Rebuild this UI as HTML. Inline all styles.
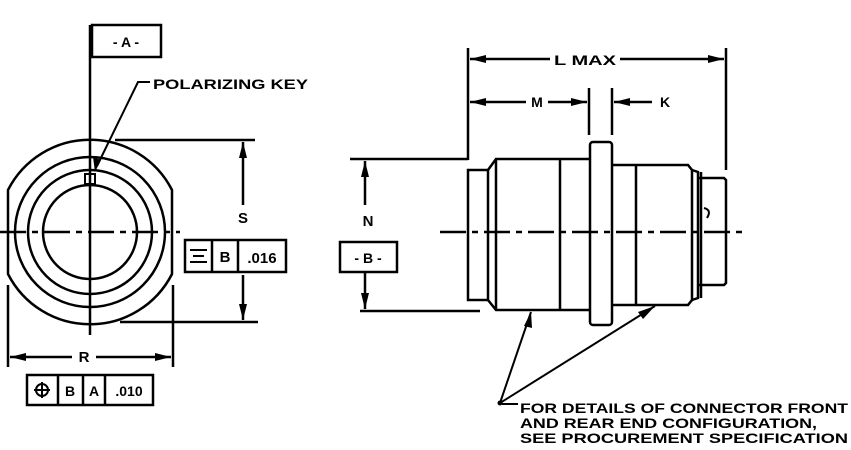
<!DOCTYPE html>
<html><head><meta charset="utf-8"><style>html,body{margin:0;padding:0;background:#fff}svg{display:block}</style></head><body>
<svg width="851" height="450" viewBox="0 0 851 450" xmlns="http://www.w3.org/2000/svg" font-family="Liberation Sans, sans-serif" font-weight="bold">
<g stroke="#000" stroke-width="2.5" fill="none">
<!-- left view -->
<line x1="90" y1="25" x2="90" y2="335"/>
<rect x="92" y="25" width="69" height="32"/>
<path d="M8,190 A92,92 0 0 1 172,190 L172,274 A92,92 0 0 1 8,274 Z"/>
<circle cx="90" cy="232" r="75"/>
<circle cx="90" cy="232" r="62"/>
<circle cx="90" cy="232" r="47"/>
<rect x="85" y="174" width="10" height="10" stroke-width="2"/>
<line x1="0" y1="232" x2="180" y2="232" stroke-dasharray="26,6,6,6"/>
<polyline points="150,82 138,82 97,166" stroke-width="2"/>
<line x1="115" y1="140" x2="255" y2="140"/>
<line x1="120" y1="322" x2="258" y2="322"/>
<line x1="243" y1="142" x2="243" y2="205"/>
<line x1="243" y1="275" x2="243" y2="320"/>
<rect x="185" y="240" width="101" height="32"/>
<line x1="212" y1="240" x2="212" y2="272"/><line x1="238" y1="240" x2="238" y2="272"/>
<line x1="8" y1="285" x2="8" y2="367"/><line x1="173" y1="285" x2="173" y2="367"/>
<line x1="10" y1="357" x2="72" y2="357"/>
<line x1="96" y1="357" x2="171" y2="357"/>
<rect x="27" y="375" width="126" height="30"/>
<line x1="58" y1="375" x2="58" y2="405"/><line x1="83" y1="375" x2="83" y2="405"/><line x1="105" y1="375" x2="105" y2="405"/>
<circle cx="42" cy="390" r="6" stroke-width="2"/><line x1="34" y1="390" x2="50" y2="390" stroke-width="2"/><line x1="42" y1="382" x2="42" y2="398" stroke-width="2"/>
<line x1="190" y1="250" x2="207" y2="250" stroke-width="2"/><line x1="190" y1="262" x2="207" y2="262" stroke-width="2"/><line x1="193" y1="256" x2="204" y2="256" stroke-width="2"/>
<!-- right view -->
<line x1="468" y1="48" x2="468" y2="160"/>
<line x1="726" y1="48" x2="726" y2="170"/>
<line x1="470" y1="59" x2="550" y2="59"/>
<line x1="620" y1="59" x2="724" y2="59"/>
<line x1="589" y1="88" x2="589" y2="135"/>
<line x1="612" y1="88" x2="612" y2="135"/>
<line x1="470" y1="102" x2="526" y2="102"/>
<line x1="548" y1="102" x2="587" y2="102"/>
<line x1="614" y1="102" x2="652" y2="102"/>
<rect x="468" y="170" width="20" height="130"/>
<path d="M488,170 L496,159 L590,159 M488,300 L496,310 L590,310 M496,159 L496,310"/>
<line x1="560" y1="159" x2="560" y2="310"/>
<rect x="590" y="142" width="22" height="183" rx="3"/>
<path d="M612,165 L688,165 L692,170 L692,300 L688,305 L612,305"/>
<line x1="636" y1="165" x2="636" y2="305"/>
<path d="M692,170 L698,172 L698,298 L692,300 M698,178 L724,178 L726,180 L726,283 L724,285 L698,285 M701,172 L701,298"/>
<path d="M704,208 Q712,210 707,218" stroke-width="2"/>
<line x1="440" y1="232" x2="745" y2="232" stroke-dasharray="26,6,6,6"/>
<line x1="350" y1="159" x2="468" y2="159"/>
<line x1="360" y1="311" x2="480" y2="311"/>
<line x1="365" y1="161" x2="365" y2="205"/>
<line x1="365" y1="272" x2="365" y2="309"/>
<rect x="340" y="242" width="57" height="30"/>
<line x1="500" y1="403" x2="531" y2="312" stroke-width="2"/>
<line x1="500" y1="403" x2="655" y2="306" stroke-width="2"/>
<line x1="502" y1="404" x2="518" y2="404" stroke-width="2"/>
</g>
<g fill="#000">
<!-- arrowheads -->
<polygon points="95,172 93,157 101,160"/>
<polygon points="243,142 239,158 247,158"/>
<polygon points="243,320 239,304 247,304"/>
<polygon points="10,357 26,353 26,361"/>
<polygon points="171,357 155,353 155,361"/>
<polygon points="470,59 486,55 486,63"/>
<polygon points="724,59 708,55 708,63"/>
<polygon points="470,102 486,98 486,106"/>
<polygon points="587,102 571,98 571,106"/>
<polygon points="614,102 630,98 630,106"/>
<polygon points="365,161 361,177 369,177"/>
<polygon points="365,309 361,293 369,293"/>
<polygon points="531,312 524,326 532,328"/>
<polygon points="655,306 638,312 643,319"/>
<circle cx="500" cy="403" r="2.5"/>
</g>
<g fill="#000" font-size="14">
<text x="126" y="47" text-anchor="middle">- A -</text>
<text x="153" y="89" textLength="155" lengthAdjust="spacingAndGlyphs">POLARIZING KEY</text>
<text x="243" y="223" text-anchor="middle" font-size="15">S</text>
<text x="225" y="262" text-anchor="middle" font-size="15">B</text>
<text x="262" y="263" text-anchor="middle" font-size="15">.016</text>
<text x="84" y="362" text-anchor="middle" font-size="15">R</text>
<text x="70" y="396" text-anchor="middle">B</text>
<text x="94" y="396" text-anchor="middle">A</text>
<text x="129" y="396" text-anchor="middle">.010</text>
<text x="585" y="65" text-anchor="middle" textLength="62" lengthAdjust="spacingAndGlyphs">L MAX</text>
<text x="537" y="107" text-anchor="middle">M</text>
<text x="665" y="107" text-anchor="middle">K</text>
<text x="368" y="226" text-anchor="middle" font-size="15">N</text>
<text x="368" y="263" text-anchor="middle">- B -</text>
<text x="520" y="413" textLength="328" lengthAdjust="spacingAndGlyphs">FOR DETAILS OF CONNECTOR FRONT</text>
<text x="520" y="428" textLength="297" lengthAdjust="spacingAndGlyphs">AND REAR END CONFIGURATION,</text>
<text x="520" y="443" textLength="328" lengthAdjust="spacingAndGlyphs">SEE PROCUREMENT SPECIFICATION</text>
</g>
</svg>
</body></html>
